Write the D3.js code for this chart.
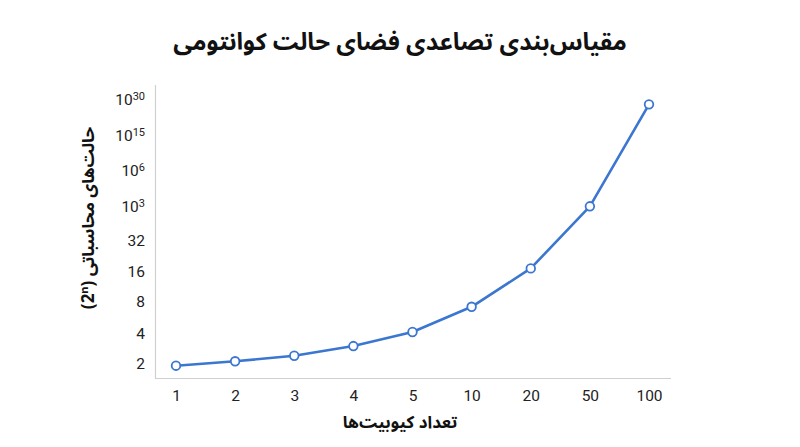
<!DOCTYPE html>
<html>
<head>
<meta charset="utf-8">
<script src="https://cdn.jsdelivr.net/npm/d3@7"></script>
<style>
  body { margin: 0; background: #fff; }
  .fa { font-family: "Noto Sans Arabic", "Vazirmatn", "DejaVu Sans", sans-serif; }
  .tick text { font-family: Roboto, "Noto Sans", sans-serif; }
</style>
</head>
<body>
<div id="chart"></div>
<script>
// qubit counts on the x axis
const qubits = ["1", "2", "3", "4", "5", "10", "20", "50", "100"];
// plotted heights, in the chart's own (non-uniform) vertical units, 0..100
const stateHeights = [4.2, 5.7, 7.6, 10.9, 15.7, 24.3, 37.4, 58.6, 93.4];
// y tick positions (same units) and their labels
const yTickValues = [4.8, 15.3, 26.0, 36.5, 46.8, 58.5, 70.8, 82.9, 95.2];
const yTickLabels = [["2"], ["4"], ["8"], ["16"], ["32"], ["10", "3"], ["10", "6"], ["10", "15"], ["10", "30"]];

const W = 800, H = 447;
const margin = { top: 85, right: 129, bottom: 69, left: 155 };
const width = W - margin.left - margin.right;
const height = H - margin.top - margin.bottom;
const blue = "#3b76d0";

const root = d3.select("#chart").append("svg")
    .attr("width", W)
    .attr("height", H);

const svg = root.append("g")
    .attr("transform", `translate(${margin.left},${margin.top})`);

const x = d3.scalePoint()
    .domain(qubits)
    .range([21, width - 22]);

const y = d3.scaleLinear()
    .domain([0, 100])
    .range([height, 0]);

// x axis
const gx = svg.append("g")
    .attr("transform", `translate(0,${height})`)
    .call(d3.axisBottom(x).tickSize(0).tickPadding(12));
gx.select(".domain").attr("stroke", "#cfcfcf").attr("stroke-width", 1.2)
    .attr("d", `M0,0.5H${width}`);
gx.selectAll("text").style("font-size", "15.5px").attr("fill", "#222");

// y axis
const gy = svg.append("g")
    .call(d3.axisLeft(y).tickValues(yTickValues).tickSize(0).tickPadding(10).tickFormat(""));
gy.select(".domain").attr("stroke", "#cfcfcf").attr("stroke-width", 1.2)
    .attr("d", `M0.5,${height}V0`);
gy.selectAll(".tick text").each(function (d, i) {
    const t = d3.select(this)
        .style("font-size", "15.5px")
        .attr("fill", "#222");
    const lab = yTickLabels[i];
    t.append("tspan").text(lab[0]);
    if (lab[1]) {
        t.append("tspan").text(lab[1])
            .attr("dy", "-0.45em")
            .style("font-size", "11px");
    }
});

// line
const line = d3.line()
    .x((d, i) => x(qubits[i]))
    .y(d => y(d));

svg.append("path")
    .datum(stateHeights)
    .attr("fill", "none")
    .attr("stroke", blue)
    .attr("stroke-width", 2.6)
    .attr("stroke-linejoin", "round")
    .attr("d", line);

svg.selectAll("circle")
    .data(stateHeights)
    .enter().append("circle")
    .attr("cx", (d, i) => x(qubits[i]))
    .attr("cy", d => y(d))
    .attr("r", 4.3)
    .attr("fill", "#fff")
    .attr("stroke", blue)
    .attr("stroke-width", 1.8);

// title
root.append("text")
    .attr("class", "fa")
    .attr("x", 400)
    .attr("y", 50)
    .attr("text-anchor", "middle")
    .attr("direction", "rtl")
    .style("font-size", "24px")
    .style("font-weight", "bold")
    .attr("fill", "#111")
    .text("مقیاس‌بندی تصاعدی فضای حالت کوانتومی");

// x label
root.append("text")
    .attr("class", "fa")
    .attr("x", 400)
    .attr("y", 428)
    .attr("text-anchor", "middle")
    .attr("direction", "rtl")
    .style("font-size", "17px")
    .style("font-weight", "bold")
    .attr("fill", "#111")
    .text("تعداد کیوبیت‌ها");

// y label
root.append("text")
    .attr("class", "fa")
    .attr("transform", "translate(94,218) rotate(-90)")
    .attr("text-anchor", "middle")
    .attr("direction", "rtl")
    .style("font-size", "17px")
    .style("font-weight", "bold")
    .attr("fill", "#111")
    .text("حالت‌های محاسباتی (2ⁿ)");
</script>
</body>
</html>
